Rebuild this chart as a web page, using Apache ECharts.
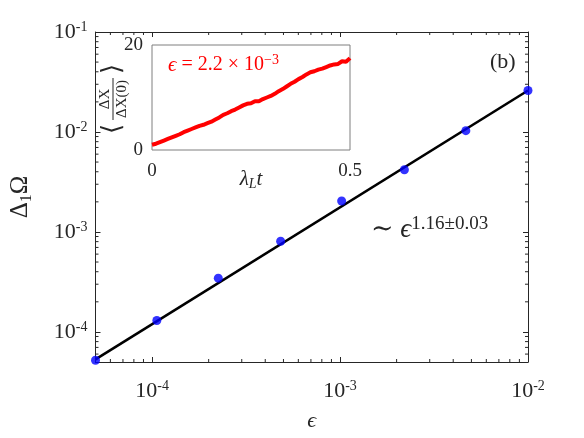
<!DOCTYPE html>
<html>
<head>
<meta charset="utf-8">
<script src="https://cdn.jsdelivr.net/npm/echarts@6/dist/echarts.min.js"></script>
<style>
  html, body { margin: 0; padding: 0; background: #fff; }
  #pic { width: 584px; height: 438px; }
</style>
</head>
<body>
<div id="pic"></div>
<script>
// main panel: Delta_1 Omega vs epsilon (log-log)
var epsVals = [5e-5, 1.06e-4, 2.25e-4, 4.83e-4, 1.02e-3, 2.2e-3, 4.67e-3, 1e-2];
var deltaVals = [5.2e-5, 1.3e-4, 3.45e-4, 8.07e-4, 2.04e-3, 4.19e-3, 1.03e-2, 2.6e-2];
// power-law fit ~ eps^1.16
var fitX = [5e-5, 1e-2];
var fitY = [5.3e-5, 2.6e-2];
var xRange = [5e-5, 1e-2];
var yRange = [5e-5, 1e-1];
var xMinor = [6e-5, 7e-5, 8e-5, 9e-5,
  2e-4, 3e-4, 4e-4, 5e-4, 6e-4, 7e-4, 8e-4, 9e-4,
  2e-3, 3e-3, 4e-3, 5e-3, 6e-3, 7e-3, 8e-3, 9e-3];
var yMinor = [6e-5, 7e-5, 8e-5, 9e-5,
  2e-4, 3e-4, 4e-4, 5e-4, 6e-4, 7e-4, 8e-4, 9e-4,
  2e-3, 3e-3, 4e-3, 5e-3, 6e-3, 7e-3, 8e-3, 9e-3,
  2e-2, 3e-2, 4e-2, 5e-2, 6e-2, 7e-2, 8e-2, 9e-2];

// inset: <dX/dX(0)> vs lambda_L t
var insetT = [0, 0.01, 0.02, 0.03, 0.04, 0.05, 0.06, 0.07, 0.08, 0.09,
  0.10, 0.11, 0.12, 0.13, 0.14, 0.15, 0.16, 0.17, 0.18, 0.19,
  0.20, 0.21, 0.22, 0.23, 0.24, 0.25, 0.26, 0.27, 0.28, 0.29,
  0.30, 0.31, 0.32, 0.33, 0.34, 0.35, 0.36, 0.37, 0.38, 0.39,
  0.40, 0.41, 0.42, 0.43, 0.44, 0.45, 0.46, 0.47, 0.48, 0.49, 0.50];
var insetV = [1.0, 1.2, 1.5, 1.8, 2.1, 2.4, 2.7, 3.0, 3.4, 3.7,
  4.0, 4.3, 4.6, 4.8, 5.1, 5.4, 5.8, 6.2, 6.7, 7.0,
  7.4, 7.7, 8.1, 8.5, 8.8, 8.9, 9.3, 9.3, 9.7, 10.0,
  10.3, 10.7, 11.2, 11.6, 12.1, 12.6, 13.0, 13.5, 13.9, 14.4,
  14.8, 15.0, 15.3, 15.5, 15.8, 16.1, 16.3, 16.4, 16.9, 16.8, 17.5];
var insetXRange = [0, 0.5];
var insetYRange = [0, 20];

var serif = "'Liberation Serif', 'DejaVu Serif', serif";
var ink = '#262626';

function pow10Label(v) {
  var e = Math.log10(v);
  var r = Math.round(e);
  if (Math.abs(e - r) > 0.01) return '';
  return '{b|10}{s|' + r + '}';
}
var powRich = {
  b: { fontSize: 22, fontFamily: serif, color: ink, lineHeight: 24 },
  s: { fontSize: 14, fontFamily: serif, color: ink, verticalAlign: 'top', lineHeight: 14 }
};

// minor log ticks drawn through the axis scales
function minorTicks(vals, isX) {
  return {
    type: 'custom', xAxisIndex: 0, yAxisIndex: 0, silent: true, clip: false, z: 5,
    data: vals.map(function (v) { return isX ? [v, yRange[0]] : [xRange[0], v]; }),
    renderItem: function (params, api) {
      var st = { stroke: ink, lineWidth: 1 };
      var a, b;
      if (isX) {
        var x = api.value(0);
        a = api.coord([x, yRange[0]]);
        b = api.coord([x, yRange[1]]);
        return { type: 'group', children: [
          { type: 'line', shape: { x1: a[0], y1: a[1], x2: a[0], y2: a[1] - 3 }, style: st },
          { type: 'line', shape: { x1: b[0], y1: b[1], x2: b[0], y2: b[1] + 3 }, style: st }
        ] };
      }
      var y = api.value(1);
      a = api.coord([xRange[0], y]);
      b = api.coord([xRange[1], y]);
      return { type: 'group', children: [
        { type: 'line', shape: { x1: a[0], y1: a[1], x2: a[0] + 3, y2: a[1] }, style: st },
        { type: 'line', shape: { x1: b[0], y1: b[1], x2: b[0] - 3, y2: b[1] }, style: st }
      ] };
    }
  };
}

var mainAxisCommon = {
  axisLine: { show: true, onZero: false, lineStyle: { color: ink, width: 1 } },
  axisTick: { show: true, inside: true, length: 5, lineStyle: { color: ink } },
  splitLine: { show: false },
  nameMoveOverlap: false
};

var myChart = echarts.init(document.getElementById('pic'));
var option = {
  backgroundColor: '#fff',
  animation: false,
  grid: [
    { left: 83, right: 56, top: 32, bottom: 76 },
    { left: 152, top: 45, width: 198, height: 105, show: true, backgroundColor: '#fff',
      borderColor: '#7f7f7f', borderWidth: 1, z: 10 }
  ],
  xAxis: [
    Object.assign({
      type: 'log', logBase: 10, gridIndex: 0, min: xRange[0], max: xRange[1], position: 'bottom',
      name: 'ϵ', nameLocation: 'middle', nameGap: 48,
      nameTextStyle: { fontSize: 22, fontFamily: serif, color: ink, fontStyle: 'italic' },
      axisLabel: { margin: 17, formatter: pow10Label, rich: powRich }
    }, mainAxisCommon),
    Object.assign({
      type: 'log', logBase: 10, gridIndex: 0, min: xRange[0], max: xRange[1], position: 'top',
      axisLabel: { show: false }
    }, mainAxisCommon),
    {
      type: 'value', gridIndex: 1, min: insetXRange[0], max: insetXRange[1], interval: 0.5,
      axisLine: { show: false }, axisTick: { show: false }, splitLine: { show: false },
      axisLabel: { margin: 12, fontSize: 19, fontFamily: serif, color: ink },
      name: '{i|λ}{sub|L}{i|t}', nameLocation: 'middle', nameGap: 17, nameMoveOverlap: false,
      nameTextStyle: { rich: {
        i: { fontSize: 21, fontFamily: serif, fontStyle: 'italic', color: ink, lineHeight: 24 },
        sub: { fontSize: 14, fontFamily: serif, fontStyle: 'italic', color: ink, verticalAlign: 'bottom', lineHeight: 14 }
      } }
    }
  ],
  yAxis: [
    Object.assign({
      type: 'log', logBase: 10, gridIndex: 0, min: yRange[0], max: yRange[1], position: 'left',
      name: '{a|Δ}{s|1}{a|Ω}', nameLocation: 'middle', nameGap: 61,
      nameTextStyle: { rich: {
        a: { fontSize: 25, fontFamily: serif, color: ink, lineHeight: 28 },
        s: { fontSize: 16, fontFamily: serif, color: ink, verticalAlign: 'bottom', lineHeight: 16 }
      } },
      axisLabel: { margin: 8, formatter: pow10Label, rich: powRich }
    }, mainAxisCommon),
    Object.assign({
      type: 'log', logBase: 10, gridIndex: 0, min: yRange[0], max: yRange[1], position: 'right',
      axisLabel: { show: false }
    }, mainAxisCommon),
    {
      type: 'value', gridIndex: 1, min: insetYRange[0], max: insetYRange[1], interval: 20,
      axisLine: { show: false }, axisTick: { show: false }, splitLine: { show: false },
      axisLabel: { margin: 9, fontSize: 19, fontFamily: serif, color: ink }
    }
  ],
  series: [
    minorTicks(xMinor, true),
    minorTicks(yMinor, false),
    {
      type: 'line', xAxisIndex: 0, yAxisIndex: 0, symbol: 'none', z: 3,
      lineStyle: { color: '#000', width: 2.6 },
      data: fitX.map(function (x, i) { return [x, fitY[i]]; })
    },
    {
      type: 'scatter', xAxisIndex: 0, yAxisIndex: 0, symbol: 'circle', symbolSize: 9, z: 4,
      itemStyle: { color: '#0000ff' },
      data: epsVals.map(function (x, i) { return [x, deltaVals[i]]; })
    },
    {
      type: 'line', xAxisIndex: 2, yAxisIndex: 2, symbol: 'none', z: 12,
      lineStyle: { color: '#ff0000', width: 4 },
      data: insetT.map(function (t, i) { return [t, insetV[i]]; })
    }
  ],
  graphic: [
    { type: 'text', left: 490, top: 51, z: 20,
      style: { text: '(b)', fontSize: 22, fontFamily: serif, fill: ink } },
    { type: 'text', left: 371, top: 215, z: 20,
      style: { text: '{a|∼ }{e|ϵ}{s|1.16±0.03}', fill: ink, rich: {
        a: { fontSize: 27, fontFamily: serif, fill: ink, lineHeight: 30 },
        e: { fontSize: 27, fontFamily: serif, fontStyle: 'italic', fill: ink, lineHeight: 30 },
        s: { fontSize: 19, fontFamily: serif, fill: ink, verticalAlign: 'top', lineHeight: 18 }
      } } },
    { type: 'text', left: 168, top: 53, z: 20,
      style: { text: '{e|ϵ}{a| = 2.2 × 10}{s|−3}', rich: {
        e: { fontSize: 21, fontFamily: serif, fontStyle: 'italic', fill: '#ff0000', lineHeight: 24 },
        a: { fontSize: 20, fontFamily: serif, fill: '#ff0000', lineHeight: 24 },
        s: { fontSize: 14, fontFamily: serif, fill: '#ff0000', verticalAlign: 'top', lineHeight: 14 }
      } } },
    { type: 'group', x: 113, y: 99, rotation: Math.PI / 2, z: 20, children: [
      { type: 'text', x: -30, y: 0, style: { text: '⟨', fontSize: 26, fontFamily: serif, fill: ink, align: 'center', verticalAlign: 'middle' } },
      { type: 'text', x: 0, y: -8, style: { text: 'ΔX', fontSize: 15, fontFamily: serif, fill: ink, align: 'center', verticalAlign: 'middle' } },
      { type: 'line', shape: { x1: -21, y1: 0, x2: 21, y2: 0 }, style: { stroke: ink, lineWidth: 1 } },
      { type: 'text', x: 0, y: 9, style: { text: 'ΔX(0)', fontSize: 15, fontFamily: serif, fill: ink, align: 'center', verticalAlign: 'middle' } },
      { type: 'text', x: 30, y: 0, style: { text: '⟩', fontSize: 26, fontFamily: serif, fill: ink, align: 'center', verticalAlign: 'middle' } }
    ] }
  ]
};
myChart.setOption(option);
</script>
</body>
</html>
